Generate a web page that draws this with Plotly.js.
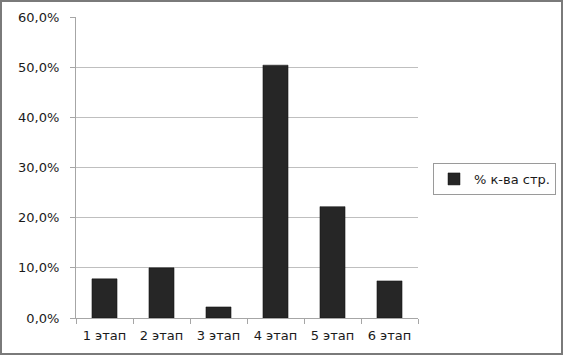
<!DOCTYPE html>
<html><head><meta charset="utf-8">
<script src="https://cdn.plot.ly/plotly-3.0.1.min.js"></script>
<style>body{margin:0;padding:0;background:#fff}#c{width:564px;height:356px}</style>
</head><body><div id="c"></div>
<script>
const categories = ["1 этап","2 этап","3 этап","4 этап","5 этап","6 этап"];
const values = [0.078, 0.100, 0.022, 0.504, 0.222, 0.074];
const seriesName = "% к-ва стр.";
const yTicks = [0,0.1,0.2,0.3,0.4,0.5,0.6];
const yTickLabels = ["0,0%","10,0%","20,0%","30,0%","40,0%","50,0%","60,0%"];

const L=76, R=146, T=17, B=38, W=564, H=356;
const pw = W-L-R, ph = H-T-B;
const px = v => (v-L)/pw;
const py = v => (H-B-v)/ph;

const trace = {
  type:'bar', x:categories, y:values, name:seriesName,
  marker:{color:'#262626', line:{color:'#111', width:0.5}},
  width:0.44, showlegend:true
};
const layout = {
  width:W, height:H,
  margin:{l:L, r:R, t:T, b:B, pad:0, autoexpand:false},
  paper_bgcolor:'#fff', plot_bgcolor:'#fff',
  font:{family:'"DejaVu Sans", Verdana, sans-serif', size:13, color:'#1a1a1a'},
  showlegend:true,
  bargap:0.56,
  xaxis:{type:'category', tickson:'boundaries', ticks:'outside', ticklen:5, tickcolor:'#a6a6a6',
    showline:true, linecolor:'#a6a6a6', linewidth:1, showgrid:false, zeroline:false,
    tickfont:{size:13}, ticklabelstandoff:5, fixedrange:true},
  yaxis:{range:[0,0.6], tickvals:yTicks, ticktext:yTickLabels, ticks:'outside', ticklen:5,
    tickcolor:'#a6a6a6', showline:true, linecolor:'#a6a6a6', linewidth:1,
    showgrid:true, gridcolor:'#bfbfbf', gridwidth:1, zeroline:false, tickfont:{size:13},
    ticklabelstandoff:8, fixedrange:true},
  legend:{x:px(433), y:py(163), xanchor:'left', yanchor:'top', bordercolor:'#9a9a9a', borderwidth:1,
    bgcolor:'#fff', font:{size:13}, itemwidth:30},
  shapes:[{type:'rect', xref:'paper', yref:'paper', x0:px(1), x1:px(562), y0:py(354), y1:py(1),
    line:{color:'#7a7a7a', width:2}, fillcolor:'rgba(0,0,0,0)', layer:'above'}]
};
Plotly.newPlot('c',[trace],layout,{displayModeBar:false, staticPlot:true});
</script></body></html>
